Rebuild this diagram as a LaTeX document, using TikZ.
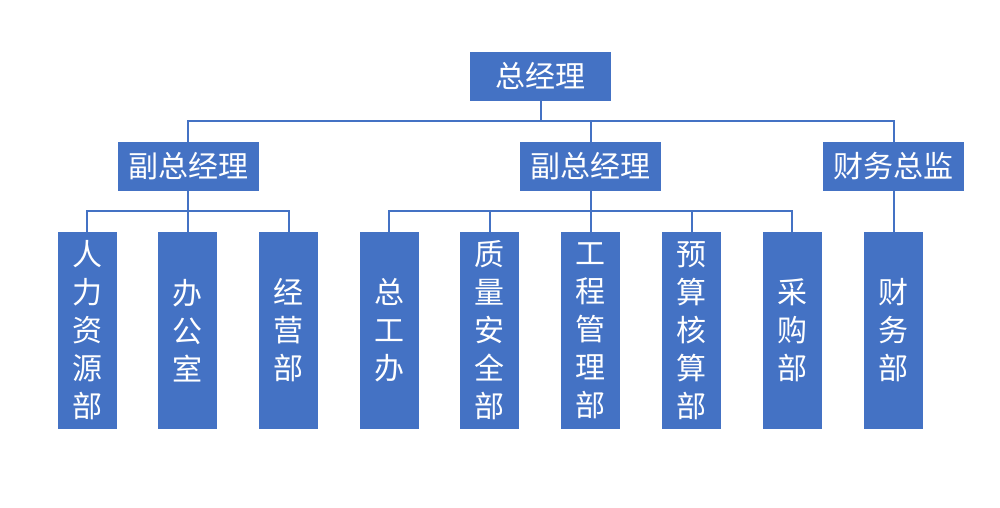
\documentclass[tikz,border=0pt]{standalone}
\usepackage{fontspec}
\newfontfamily\cjk{Noto Sans CJK SC}
\definecolor{obox}{HTML}{4472C4}
\tikzset{
  box/.style={fill=obox, draw=none, text=white, inner sep=0pt, font=\cjk\fontsize{30}{38}\selectfont},
  mgr/.style={box, minimum width=141pt, minimum height=49pt},
  leaf/.style={box, minimum width=59pt, minimum height=197pt, align=center},
  link/.style={draw=obox, line width=2pt}
}
\begin{document}
\begin{tikzpicture}[x=1pt,y=-1pt]
\useasboundingbox (0,0) rectangle (1000,507);
\node[mgr] (ceo) at (540.5,76) {总经理};
\node[mgr] (v1) at (188,166.5) {副总经理};
\node[mgr] (v2) at (590.5,166.5) {副总经理};
\node[mgr] (cfo) at (893.5,166.5) {财务总监};
\node[leaf] (l1) at (87,330.5) {人\\力\\资\\源\\部};
\node[leaf] (l2) at (187.5,330.5) {办\\公\\室};
\node[leaf] (l3) at (288.5,330.5) {经\\营\\部};
\node[leaf] (l4) at (389,330.5) {总\\工\\办};
\node[leaf] (l5) at (489.5,330.5) {质\\量\\安\\全\\部};
\node[leaf] (l6) at (590.5,330.5) {工\\程\\管\\理\\部};
\node[leaf] (l7) at (691.5,330.5) {预\\算\\核\\算\\部};
\node[leaf] (l8) at (792,330.5) {采\\购\\部};
\node[leaf] (l9) at (893.5,330.5) {财\\务\\部};
\coordinate (h0) at (540.5,121);
\coordinate (h1) at (188,211);
\coordinate (h2) at (590.5,211);
\draw[link] (ceo.south) -- (h0);
\draw[link] (h0) -| (v1.north);
\draw[link] (h0) -| (v2.north);
\draw[link] (h0) -| (cfo.north);
\draw[link] (v1.south) -- (h1);
\foreach \n in {l1,l2,l3} \draw[link] (h1) -| (\n.north);
\draw[link] (v2.south) -- (h2);
\foreach \n in {l4,l5,l6,l7,l8} \draw[link] (h2) -| (\n.north);
\draw[link] (cfo.south) -- (l9.north);
\end{tikzpicture}
\end{document}
